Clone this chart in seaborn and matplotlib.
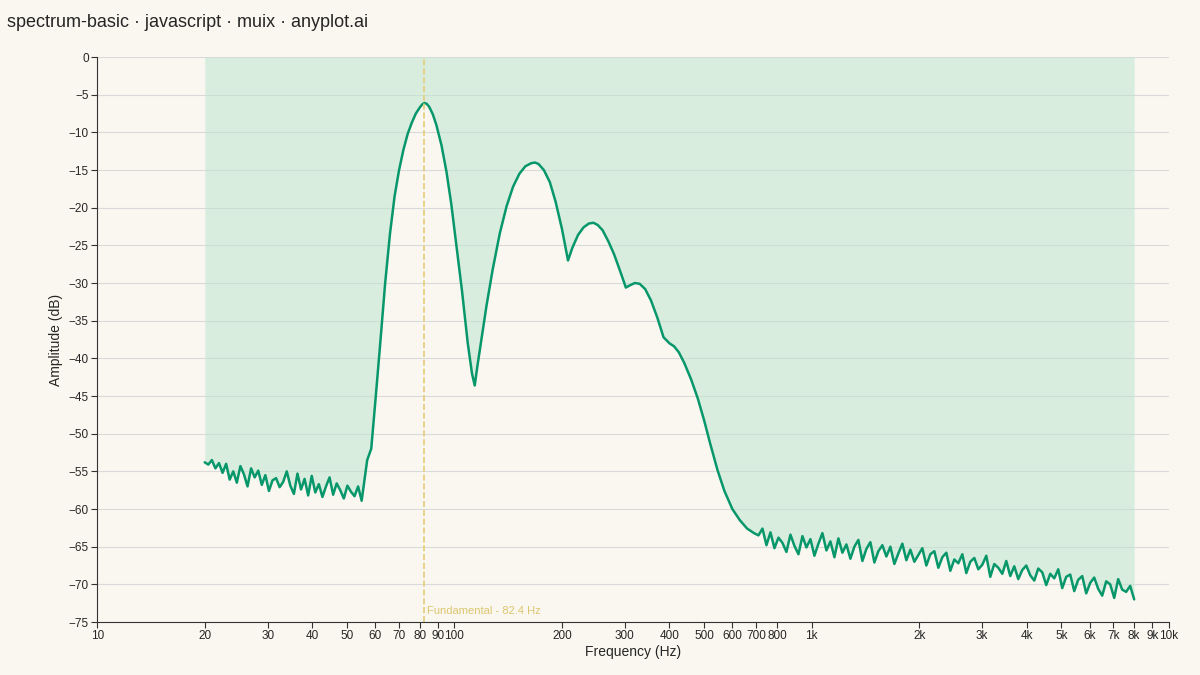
import numpy as np
import matplotlib
matplotlib.use("Agg")
import matplotlib.pyplot as plt
import seaborn as sns
import pandas as pd

# low-frequency noise floor (20-55 Hz)
low_freq_start, low_freq_stop = 20, 55
low_amp = [-53.8, -54.1, -53.5, -54.6, -53.9, -55.2, -54.0, -56.1, -55.0, -56.5, -54.3, -55.4,
           -57.0, -54.6, -55.8, -54.9, -56.8, -55.5, -57.6, -56.2, -55.9, -57.1, -56.4, -55.0,
           -56.9, -58.0, -55.3, -57.4, -56.0, -58.2, -55.6, -57.8, -56.7, -58.4, -57.0, -55.8,
           -58.1, -56.6, -57.5, -58.6, -56.9, -57.7, -58.3, -57.0, -58.9]

# harmonic region (explicit bins)
peak_freq = [57, 58.5, 60, 62, 64, 66, 68, 70, 72, 74, 76, 78, 80, 81.2, 82.4, 83.6, 85, 87,
             89, 92, 95, 98, 101, 105, 109, 112, 114, 116, 119, 123, 128, 134, 140, 146, 152,
             158, 164, 168, 172, 178, 185, 192, 200, 208, 214, 222, 230, 238, 245, 252, 260,
             270, 280, 292, 302, 310, 320, 330, 342, 355, 370, 385, 400, 412, 425, 440, 460,
             480, 500, 520, 545, 570, 600, 630, 660, 690]
peak_amp = [-53.5, -52.0, -46, -38, -30, -23.5, -18.5, -15, -12.3, -10.2, -8.7, -7.5, -6.7,
            -6.3, -6.1, -6.2, -6.6, -7.6, -9.0, -11.7, -15.2, -19.5, -24.5, -31, -38, -42,
            -43.6, -41, -37.5, -33, -28.2, -23.4, -19.8, -17.2, -15.5, -14.5, -14.1, -14.0,
            -14.2, -15.0, -16.6, -19.2, -22.8, -27, -25.3, -23.6, -22.6, -22.1, -22.0, -22.3,
            -23.0, -24.5, -26.2, -28.6, -30.6, -30.3, -30.0, -30.1, -30.8, -32.3, -34.6,
            -37.2, -38.0, -38.4, -39.2, -40.6, -42.8, -45.3, -48.2, -51.3, -54.8, -57.6, -60.0,
            -61.5, -62.6, -63.2]

# high-frequency noise floor (700-8000 Hz)
high_freq_start, high_freq_stop = 710, 8000
high_amp = [-63.5, -62.6, -64.8, -63.1, -65.2, -63.8, -64.5, -65.7, -63.4, -64.9, -66.0, -63.6,
            -65.1, -64.0, -66.2, -64.6, -63.2, -65.5, -64.3, -66.4, -63.9, -65.8, -64.7, -66.6,
            -65.0, -64.1, -66.9, -65.3, -64.4, -67.1, -65.6, -64.8, -66.3, -65.0, -67.3, -65.9,
            -64.6, -66.8, -65.4, -67.0, -66.1, -65.2, -67.5, -66.0, -65.6, -67.8, -66.4, -65.8,
            -68.2, -66.7, -67.2, -66.0, -68.5, -67.0, -66.5, -68.0, -67.4, -66.2, -69.0, -67.3,
            -67.8, -68.6, -66.9, -68.9, -67.6, -69.3, -68.1, -67.5, -68.8, -69.5, -67.9, -68.4,
            -70.1, -68.6, -69.2, -68.0, -70.5, -69.0, -68.7, -70.9, -69.4, -68.9, -71.2, -69.8,
            -69.1, -70.6, -71.5, -69.6, -70.0, -71.8, -69.3, -70.7, -71.0, -70.2, -72.0]

fund = 82.4
xticks = [10, 20, 30, 40, 50, 60, 70, 80, 90, 100, 200, 300, 400, 500, 600, 700, 800,
          1000, 2000, 3000, 4000, 5000, 6000, 7000, 8000, 9000, 10000]
xlabels = ["10", "20", "30", "40", "50", "60", "70", "80", "90", "100", "200", "300", "400",
           "500", "600", "700", "800", "1k", "2k", "3k", "4k", "5k", "6k", "7k", "8k", "9k", "10k"]

low_freq = np.geomspace(low_freq_start, low_freq_stop, len(low_amp))
high_freq = np.geomspace(high_freq_start, high_freq_stop, len(high_amp))
df = pd.DataFrame({"freq": np.concatenate([low_freq, peak_freq, high_freq]),
                   "amp": np.concatenate([low_amp, peak_amp, high_amp])})

sns.set_style("white")
plt.rcParams["font.family"] = ["Liberation Sans", "DejaVu Sans"]
bg = "#FAF7F0"
fig = plt.figure(figsize=(12, 6.75), dpi=100, facecolor=bg)
ax = fig.add_axes([0.081, 0.0785, 0.893, 0.837], facecolor=bg)
green = "#07976A"
ax.fill_between(df["freq"], df["amp"], 0, color="#BFE6D2", alpha=0.55, lw=0)
sns.lineplot(data=df, x="freq", y="amp", ax=ax, color=green, lw=1.8)
ax.set_xscale("log")
ax.set_xlim(10, 10000)
ax.set_ylim(-75, 0)
ax.axvline(fund, color="#E3CE7A", ls="--", lw=1.2)
ax.text(fund * 1.02, -74.2, "Fundamental - 82.4 Hz", color="#DCC66E", fontsize=8, va="bottom")
ax.set_xticks(xticks)
ax.set_xticklabels(xlabels, fontsize=8.5)
ax.minorticks_off()
ax.set_yticks(range(-75, 1, 5))
ax.set_yticklabels([str(v).replace("-", "\u2212") for v in range(-75, 1, 5)], fontsize=8.5)
ax.grid(axis="y", color="#DADADA", lw=0.8)
ax.tick_params(axis="both", length=4, color="#333", direction="out", bottom=True, left=True, pad=2)
for s in ["top", "right"]:
    ax.spines[s].set_visible(False)
for s in ["left", "bottom"]:
    ax.spines[s].set_color("#333")
ax.set_xlabel("Frequency (Hz)", fontsize=10, labelpad=2)
ax.set_ylabel("Amplitude (dB)", fontsize=10)
fig.text(0.006, 0.967, "spectrum-basic · javascript · muix · anyplot.ai", fontsize=13, va="center")
fig.savefig("out.png", dpi=100, facecolor=bg)
